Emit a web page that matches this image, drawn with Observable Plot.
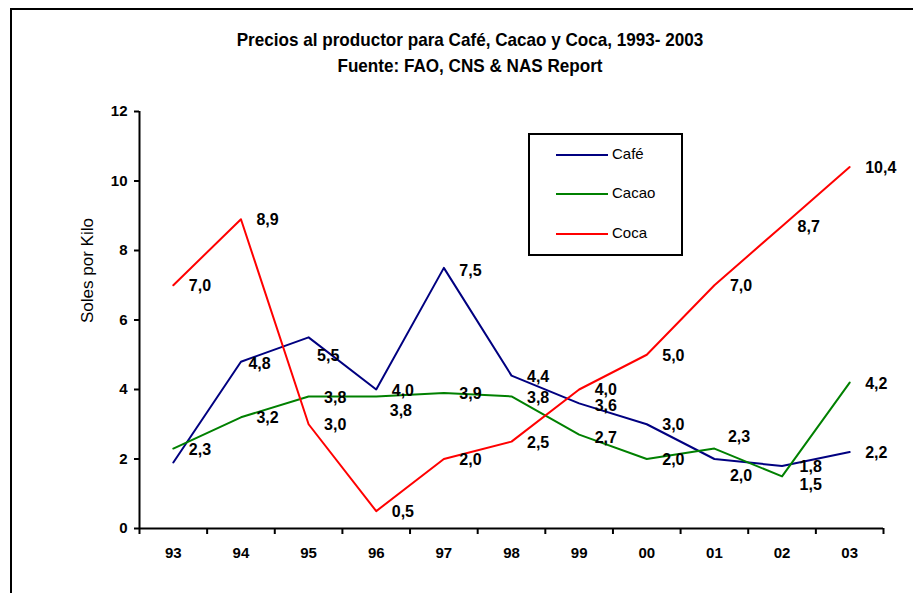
<!DOCTYPE html>
<html>
<head>
<meta charset="utf-8">
<script src="https://cdn.jsdelivr.net/npm/d3@7"></script>
<script src="https://cdn.jsdelivr.net/npm/@observablehq/plot@0.6"></script>
<style>
  html, body { margin: 0; padding: 0; background: #fff; }
  #wrap { position: relative; width: 913px; height: 593px; overflow: hidden; font-family: "Liberation Sans", Arial, sans-serif; }
  #border { position: absolute; left: 10px; top: 8px; right: -10px; bottom: -10px; border-top: 2px solid #000; border-left: 2px solid #000; }
  .title { position: absolute; left: 470px; transform: translateX(-50%) scaleX(0.9); transform-origin: center; white-space: nowrap; font-family: "Liberation Sans", Arial, sans-serif; font-weight: bold; font-size: 19px; color: #000; }
  #legend { position: absolute; left: 528px; top: 133px; width: 155px; height: 123px; box-sizing: border-box; border: 2px solid #000; background: #fff; }
  .lg-line { position: absolute; left: 26px; width: 52px; height: 2px; }
  .lg-text { position: absolute; left: 82px; font-size: 15px; color: #000; line-height: 18px; }
  #chart { position: absolute; left: 0; top: 0; }
</style>
</head>
<body>
<div id="wrap">
  <div id="chart"></div>
  <div id="border"></div>
  <div class="title" id="t1" style="top:29px"></div>
  <div class="title" id="t2" style="top:55px"></div>
  <div id="legend"></div>
</div>
<script>
const titleText = "Precios al productor para Café, Cacao y Coca, 1993- 2003";
const subtitleText = "Fuente: FAO, CNS & NAS Report";
const yLabel = "Soles por Kilo";

const years = ["93", "94", "95", "96", "97", "98", "99", "00", "01", "02", "03"];
const seriesNames = ["Café", "Cacao", "Coca"];
const seriesColors = ["#000080", "#008000", "#ff0000"];
const cafe  = [1.9, 4.8, 5.5, 4.0, 7.5, 4.4, 3.6, 3.0, 2.0, 1.8, 2.2];
const cacao = [2.3, 3.2, 3.8, 3.8, 3.9, 3.8, 2.7, 2.0, 2.3, 1.5, 4.2];
const coca  = [7.0, 8.9, 3.0, 0.5, 2.0, 2.5, 4.0, 5.0, 7.0, 8.7, 10.4];
const yTicks = [0, 2, 4, 6, 8, 10, 12];
const unlabeled = ["Café 93"];

// label nudges (px) relative to default placement to the right of each point
const labelNudges = {
  "Café 94": [-8, 1], "Café 95": [-7, 17], "Café 97": [0, 2], "Café 99": [0, 1], "Café 01": [0, 16], "Café 02": [2, 0],
  "Cacao 96": [-2, 13], "Cacao 99": [0, 2], "Cacao 01": [-2, -13], "Cacao 02": [2, 7],
  "Coca 99": [0, -1]
};

const seriesValues = [cafe, cacao, coca];
const data = seriesNames.flatMap((s, k) => years.map((y, i) => ({series: s, year: y, i, value: seriesValues[k][i]})));
const fmt = v => v.toFixed(1).replace(".", ",");

const labelMarks = data
  .filter(d => !unlabeled.includes(d.series + " " + d.year))
  .map(d => {
    const n = labelNudges[d.series + " " + d.year] || [0, 0];
    return Plot.text([d], {
      x: "i", y: "value", text: d => fmt(d.value),
      textAnchor: "start", dx: 15.5 + n[0], dy: 1 + n[1],
      fontSize: 16, fontWeight: "bold", fill: "#000"
    });
  });

const plot = Plot.plot({
  width: 913,
  height: 593,
  marginLeft: 139,
  marginRight: 30,
  marginTop: 111,
  marginBottom: 65,
  style: {fontFamily: "'Liberation Sans', Arial, sans-serif", background: "transparent", color: "#000", overflow: "visible"},
  x: {type: "linear", domain: [-0.5, years.length - 0.5]},
  y: {domain: [0, 12]},
  color: {domain: seriesNames, range: seriesColors},
  marks: [
    Plot.axisY({ticks: yTicks, tickSize: 5, tickPadding: 7, strokeWidth: 2, fontSize: 15, fontWeight: "bold", label: null}),
    Plot.axisX({ticks: d3.range(-0.5, years.length, 1), tickSize: 6, strokeWidth: 2, tickFormat: () => "", label: null}),
    Plot.axisX({ticks: d3.range(years.length), tickSize: 0, tickPadding: 19, tickFormat: i => years[i], fontSize: 15, fontWeight: "bold", label: null}),
    Plot.text([yLabel], {frameAnchor: "left", dx: -52, dy: 3, rotate: -90, fontSize: 17, fill: "#000"}),
    Plot.line(data, {x: "i", y: "value", z: "series", stroke: "series", strokeWidth: 2}),
    ...labelMarks,
    Plot.ruleX([-0.5], {strokeWidth: 2}),
    Plot.ruleY([0], {strokeWidth: 2})
  ]
});
document.getElementById("chart").appendChild(plot);
document.getElementById("t1").textContent = titleText;
document.getElementById("t2").textContent = subtitleText;

const legend = document.getElementById("legend");
const rowTops = [20, 59, 99];
seriesNames.forEach((s, k) => {
  const line = document.createElement("div");
  line.className = "lg-line";
  line.style.top = (rowTops[k] - 1) + "px";
  line.style.background = seriesColors[k];
  legend.appendChild(line);
  const t = document.createElement("div");
  t.className = "lg-text";
  t.style.top = (rowTops[k] - 10) + "px";
  t.textContent = s;
  legend.appendChild(t);
});
</script>
</body>
</html>
